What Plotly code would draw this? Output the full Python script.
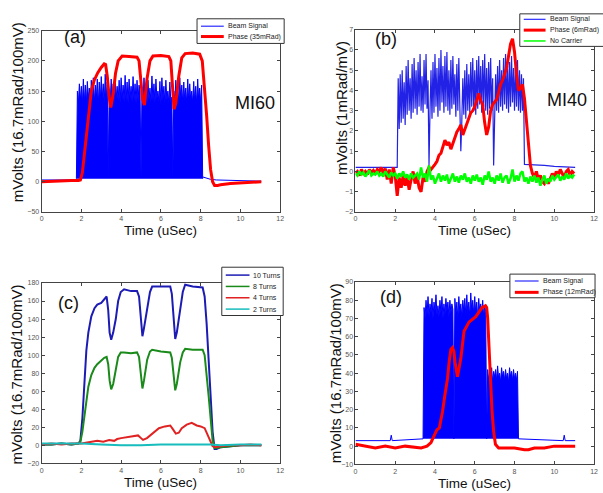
import plotly.graph_objects as go

W, H = 603, 493
FONT = "Liberation Sans, Arial, sans-serif"

# ---------------- Panel (a) MI60 ----------------
a_beam_t0, a_beam_dt = 1.75, 0.05
a_beam_env = [5, 150, 130, 162, 135, 158, 128, 170, 132, 160,
              130, 166, 138, 155, 130, 168, 134, 172, 130, 160,
              136, 170, 128, 165, 133, 174, 138, 162, 130, 178,
              135, 165,
              10,
              150, 132, 170, 135, 162, 130, 175, 138, 158, 133,
              168, 130, 172, 136, 160, 131, 176, 134, 165, 130,
              170, 138, 158, 132, 174, 135, 162, 130, 168, 134,
              160, 150,
              8,
              155, 130, 172, 134, 160, 128, 168, 136, 155, 131,
              175, 133, 162, 130, 170, 137, 150, 132, 166, 128,
              172, 135, 158, 130, 168, 134, 150, 130, 165, 132,
              140,
              8,
              150, 130, 168, 133, 158, 128, 172, 136, 160, 130,
              165, 134, 155, 129, 170, 132, 162, 135, 150, 130,
              166, 133, 158, 128, 170, 135, 155, 130, 160,
              5]
a_beam_base_x = [0, 1.75, None, 8.10, 8.3, 8.5, 8.8, 9.5, 11.05]
a_beam_base_y = [3, 3, None, 8, 6, 4, 3, 2, 1]
a_phase_x = [0, 0.5, 1.0, 1.5, 1.85, 1.95, 2.05, 2.15, 2.25, 2.35,
             2.5, 2.65, 2.82, 3.0, 3.15, 3.22, 3.3, 3.4, 3.48, 3.6,
             3.72, 3.85, 4.05, 4.4, 4.8, 4.9, 5.0, 5.08, 5.17, 5.3,
             5.45, 5.6, 6.0, 6.4, 6.5, 6.58, 6.66, 6.75, 6.9, 7.05,
             7.22, 7.6, 7.95, 8.08, 8.2, 8.3, 8.4, 8.5, 8.6, 8.7,
             8.85, 9.0, 9.5, 10.0, 10.5, 11.05]
a_phase_y = [0, 1, 1, 2, 2, 3, 15, 45, 80, 115,
             150, 168, 180, 189, 195, 194, 175, 140, 123, 145,
             180, 200, 208, 207, 206, 200, 160, 136, 127, 170,
             200, 208, 209, 207, 200, 160, 120, 130, 175, 205,
             212, 213, 211, 200, 158, 110, 60, 20, 0, -6,
             -6, -5, -3, -2, -1, 0]

# ---------------- Panel (b) MI40 ----------------
b_beam_t0, b_beam_dt = 2.10, 0.05
b_beam_vals = [0.2,
               4.6, 2.1, 4.8, 2.4, 5.0, 2.6, 4.4, 2.3, 5.2, 2.8,
               5.5, 3.0, 4.6, 2.6, 5.3, 2.9, 5.6, 3.1, 5.0, 2.8,
               5.4, 3.2, 5.8, 3.0, 4.7, 2.9, 5.5, 3.3, 5.8, 3.1,
               4.5,
               0.3,
               3.0, 5.0, 2.6, 5.4, 2.9, 5.8, 3.2, 5.1, 2.7, 5.6,
               3.0, 6.0, 3.4, 5.2, 2.9, 5.7, 3.2, 5.9, 3.0, 5.0,
               2.8, 5.5, 3.1, 5.7, 3.3, 4.8, 2.7, 5.3, 3.0, 5.6,
               3.2,
               1.0,
               2.5, 4.6, 2.8, 5.0, 2.6, 5.3, 3.0, 4.8, 2.9, 5.4,
               3.2, 5.6, 3.0, 5.0, 2.8, 5.5, 3.1, 5.7, 3.3, 5.2,
               2.9, 5.5, 3.2, 5.8, 3.0, 5.1, 2.8, 5.4, 3.1, 5.6,
               3.0, 4.6,
               0.3,
               2.8, 4.8, 3.0, 5.2, 2.9, 5.5, 3.2, 5.0, 3.0, 5.6,
               3.3, 5.8, 3.1, 5.2, 2.9, 5.4, 3.2, 5.7, 3.4, 5.1,
               3.0, 5.3, 3.2, 5.5, 3.0, 5.0, 2.9, 4.8, 3.0, 4.6,
               0.35]
b_beam_pre_x, b_beam_pre_y = [0, 2.05], [0.2, 0.2]
b_beam_post_x, b_beam_post_y = [8.55, 9.0, 9.5, 10.0, 11.05], [0.35, 0.33, 0.3, 0.25, 0.2]

b_noise_t0, b_noise_dt = 0.0, 0.1
b_phase_vals = [-0.1, 0.0, -0.2, 0.1, -0.1, 0.0, -0.15, 0.1, -0.05, 0.05,
                -0.1, 0.1, 0.0, 0.2, -0.1, 0.15, -0.4, 0.1, -0.6, 0.2,
                -0.2, -1.2, -0.3, -0.8, -0.2, -0.7, -0.3, -0.9, -0.4, 0.0,
                -0.6, -0.2, -0.8, -1.0, -0.3, -0.5, 0.0, 0.2, 0.1, 0.2,
                0.35, 0.5, 0.8, 0.9, 1.2, 1.55, 1.3, 1.45, 1.1, 1.4,
                1.7, 1.95, 2.1, 2.3, 1.8, 2.1, 2.4, 2.6, 2.9, 3.0,
                3.2, 3.5, 3.85, 3.5, 3.3, 2.4, 1.8, 2.2, 3.0, 3.3,
                3.4, 3.55, 3.9, 4.3, 4.5, 4.75, 5.1, 5.7, 6.3, 6.55,
                5.9, 4.8, 4.0, 4.1, 4.3, 3.6, 2.5, 1.4, 0.3, -0.1,
                -0.3, 0.0, -0.4, -0.2, -0.5, -0.6, -0.4, -0.6, -0.3, -0.1,
                -0.3, 0.0, -0.2, 0.1, -0.1, -0.3, 0.0, 0.1, -0.2, 0.0,
                -0.1]
b_nocarrier_vals = [-0.1, -0.2, 0.0, -0.15, -0.05, -0.25, -0.1, 0.05, -0.2, -0.1, -0.15,
                    0.0, -0.2, -0.1, -0.25, 0.0, -0.15, -0.3, -0.05, -0.2, -0.1,
                    -0.35, -0.1, -0.25, 0.0, -0.3, -0.15, -0.4, -0.1, -0.3, -0.2,
                    -0.1, -0.4, 0.2, -0.3, -0.1, -0.5, 0.3, -0.4, -0.2, -0.6,
                    -0.3, -0.1, -0.5, -0.2, -0.45, -0.15, -0.6, -0.3, -0.1, -0.5,
                    -0.25, -0.55, -0.2, -0.4, -0.1, -0.5, -0.3, -0.6, -0.2, -0.45,
                    -0.15, -0.5, -0.3, -0.65, -0.2, -0.4, 0.0, -0.5, -0.3, -0.6,
                    -0.2, -0.45, -0.1, -0.55, -0.3, -0.2, -0.6, -0.35, 0.1, -0.5,
                    -0.2, -0.45, -0.1, 0.0, -0.5, -0.3, -0.6, -0.25, -0.5, -0.2,
                    -0.55, -0.3, -0.7, -0.4, -0.2, -0.6, -0.35, -0.5, -0.2, -0.4,
                    -0.3, -0.15, -0.45, -0.25, -0.4, -0.1, -0.35, -0.2, -0.3, -0.15]

# ---------------- Panel (c) turns ----------------
c_x = [0, 0.5, 1, 1.5, 1.85, 1.95, 2.05, 2.15, 2.25, 2.35,
       2.5, 2.66, 2.8, 3.0, 3.15, 3.27, 3.35, 3.42, 3.5, 3.6,
       3.73, 3.85, 3.98, 4.15, 4.5, 4.8, 4.9, 5.0, 5.07, 5.15,
       5.31, 5.45, 5.56, 6.0, 6.47, 6.55, 6.63, 6.72, 6.8, 6.97,
       7.1, 7.22, 7.6, 8.1, 8.2, 8.3, 8.4, 8.5, 8.6, 8.7,
       8.8, 9.0, 9.5, 10, 10.5, 11.05]
c_turns10 = [1, 1, 2, 1, 2, 5, 30, 70, 105, 125,
             143, 152, 156, 158, 162, 165, 150, 125, 117, 125,
             140, 160, 170, 173, 171, 171, 165, 140, 121, 130,
             154, 170, 176, 176, 176, 168, 140, 118, 125, 152,
             170, 178, 176, 175, 165, 135, 95, 55, 15, -4,
             -4, -2, -1, 0, 0, 0]
c_turns8 = [1, 1, 2, 1, 2, 4, 15, 30, 50, 65,
            78, 86, 90, 94, 97, 98, 90, 72, 62, 68,
            85, 98, 103, 103, 102, 103, 98, 78, 63, 72,
            95, 104, 106, 104, 103, 97, 78, 61, 68, 92,
            103, 107, 106, 106, 100, 80, 55, 30, 5, -3,
            -3, -2, -1, 0, 0, 0]
c4_x = [0, 0.5, 1, 1.5, 2, 2.3, 2.5, 2.8, 3.1, 3.4,
        3.65, 3.8, 4.0, 4.3, 4.6, 4.85, 5.0, 5.1, 5.3, 5.5,
        5.7, 5.9, 6.2, 6.47, 6.6, 6.75, 6.9, 7.05, 7.3, 7.55,
        7.8, 8.0, 8.2, 8.3, 8.45, 8.6, 8.75, 9.0, 9.5, 10,
        10.5, 11.05]
c_turns4 = [1, 2, 1, 2, 2, 3, 4, 5, 4, 6,
            5, 7, 8, 9, 10, 11, 8, 6, 8, 12,
            16, 19, 21, 22, 18, 13, 14, 19, 23, 25,
            22, 21, 19, 14, 5, -1, -2, -1, 0, 0,
            1, 0]
c2_x = [0, 1, 2, 3, 4, 5, 6, 7, 8, 8.5, 9, 10, 11.05]
c_turns2 = [2, 2, 2, 1, 0, 0, 1, 1, 1, 1, 0, 1, 1]

# ---------------- Panel (d) ----------------
d_beam_t0, d_beam_dt = 3.40, 0.05
d_beam_env = [4,
              76, 70, 80, 72, 82, 71, 78, 73, 81, 70,
              79, 74, 83, 72, 77, 71, 80, 73, 82, 70,
              78, 72, 81, 74, 79, 71, 80, 73, 78, 75,
              4,
              81, 72, 79, 70, 82, 73, 78, 71, 80, 74,
              81, 72, 83, 73, 79, 71, 84, 74, 80, 72,
              82, 73, 79, 70, 81, 74, 78, 72, 80, 71,
              77, 74,
              4,
              42, 36, 40, 37, 43, 35, 41, 38, 42, 36,
              44, 37, 40, 35, 43, 38, 41, 36, 42, 37,
              40, 35, 43, 38, 41, 36, 42, 37, 40, 36,
              41,
              4]
d_beam_base_x = [0, 1.75, 1.8, 1.85, 3.4, None, 8.2, 9, 10, 10.45, 10.5, 10.55, 11.05]
d_beam_base_y = [3, 3, 6, 3, 4, None, 4, 3.5, 3, 3, 6, 3, 3]
d_phase_x = [0, 0.5, 1, 1.5, 2, 2.5, 3, 3.3, 3.6, 3.8,
             3.97, 4.1, 4.22, 4.38, 4.5, 4.63, 4.72, 4.8, 4.88, 4.95,
             5.01, 5.08, 5.13, 5.2, 5.3, 5.46, 5.6, 5.71, 6.05, 6.37,
             6.54, 6.6, 6.65, 6.71, 6.8, 6.87, 6.95, 7.04, 7.2, 7.5,
             8, 8.5, 8.7, 9, 9.5, 10, 10.5, 11.05]
d_phase_y = [1, 0, -1, 0, -1, 0, -0.5, -1, 0, 2,
             6, 9, 10, 19, 28, 37, 47, 53, 54, 52,
             46, 40, 38, 42, 48, 63, 66, 68, 71, 76,
             77, 76, 70, 55, 35, 19, 8, 1, -1, -1,
             -1, -2, -2, -1, -1, 0, 0, 0]

x_ticks = [0, 2, 4, 6, 8, 10, 12]


def grid(t0, dt, n):
    return [round(t0 + i * dt, 4) for i in range(n)]


BLUE = "#0000ff"
RED = "#ff0000"

fig = go.Figure()

# (a)
fig.add_trace(go.Scatter(x=a_beam_base_x, y=a_beam_base_y, mode="lines", name="Beam Signal",
                         line=dict(color=BLUE, width=1), xaxis="x", yaxis="y", showlegend=False))
fig.add_trace(go.Scatter(x=grid(a_beam_t0, a_beam_dt, len(a_beam_env)), y=a_beam_env, mode="lines",
                         fill="toself", fillcolor=BLUE, name="Beam Signal",
                         line=dict(color=BLUE, width=1), xaxis="x", yaxis="y", showlegend=False))
fig.add_trace(go.Scatter(x=a_phase_x, y=a_phase_y, mode="lines", name="Phase (35mRad)",
                         line=dict(color=RED, width=3), xaxis="x", yaxis="y", showlegend=False))

# (b)
b_bx = b_beam_pre_x + grid(b_beam_t0, b_beam_dt, len(b_beam_vals)) + b_beam_post_x
b_by = b_beam_pre_y + b_beam_vals + b_beam_post_y
fig.add_trace(go.Scatter(x=b_bx, y=b_by, mode="lines", name="Beam Signal",
                         line=dict(color="#2222e6", width=1.2), xaxis="x2", yaxis="y2", showlegend=False))
fig.add_trace(go.Scatter(x=grid(b_noise_t0, b_noise_dt, len(b_phase_vals)), y=b_phase_vals, mode="lines",
                         name="Phase (6mRad)", line=dict(color=RED, width=3),
                         xaxis="x2", yaxis="y2", showlegend=False))
fig.add_trace(go.Scatter(x=grid(b_noise_t0, b_noise_dt, len(b_nocarrier_vals)), y=b_nocarrier_vals,
                         mode="lines", name="No Carrier", line=dict(color="#00ff00", width=2.5),
                         xaxis="x2", yaxis="y2", showlegend=False))

# (c)
c_series = [(c_x, c_turns10, "10 Turns", "#1c1cb4"),
            (c_x, c_turns8, "8 Turns", "#1a8a1a"),
            (c4_x, c_turns4, "4 Turns", "#e02222"),
            (c2_x, c_turns2, "2 Turns", "#17bcbc")]
for xs, ys, nm, col in c_series:
    fig.add_trace(go.Scatter(x=xs, y=ys, mode="lines", name=nm, line=dict(color=col, width=2),
                             xaxis="x3", yaxis="y3", showlegend=False))

# (d)
fig.add_trace(go.Scatter(x=d_beam_base_x, y=d_beam_base_y, mode="lines", name="Beam Signal",
                         line=dict(color=BLUE, width=1), xaxis="x4", yaxis="y4", showlegend=False))
fig.add_trace(go.Scatter(x=grid(d_beam_t0, d_beam_dt, len(d_beam_env)), y=d_beam_env, mode="lines",
                         fill="toself", fillcolor=BLUE, name="Beam Signal",
                         line=dict(color=BLUE, width=1), xaxis="x4", yaxis="y4", showlegend=False))
fig.add_trace(go.Scatter(x=d_phase_x, y=d_phase_y, mode="lines", name="Phase (12mRad)",
                         line=dict(color=RED, width=3), xaxis="x4", yaxis="y4", showlegend=False))


def px(x):
    return x / W


def py(y):
    return 1 - y / H


def xaxis(l, r, anchor):
    return dict(domain=[px(l), px(r)], range=[0, 12], tickvals=x_ticks, anchor=anchor,
                ticks="inside", ticklen=3, tickcolor="#444", mirror="ticks", showline=True,
                linecolor="#444", linewidth=1, showgrid=False, zeroline=False,
                tickfont=dict(size=7, color="#555", family=FONT))


def yaxis(t, b, rng, dtick, anchor):
    return dict(domain=[py(b), py(t)], range=rng, dtick=dtick, tick0=rng[0], anchor=anchor,
                ticks="inside", ticklen=3, tickcolor="#444", mirror="ticks", showline=True,
                linecolor="#444", linewidth=1, showgrid=False, zeroline=False,
                tickfont=dict(size=7, color="#555", family=FONT))


fig.update_layout(
    width=W, height=H, margin=dict(l=0, r=0, t=0, b=0),
    paper_bgcolor="white", plot_bgcolor="white", showlegend=False,
    font=dict(family=FONT),
    xaxis=xaxis(40, 281, "y"), yaxis=yaxis(27, 211, [-50, 250], 50, "x"),
    xaxis2=xaxis(357, 598, "y2"), yaxis2=yaxis(26, 211, [-2, 7], 1, "x2"),
    xaxis3=xaxis(40, 281, "y3"), yaxis3=yaxis(283, 466, [-20, 180], 20, "x3"),
    xaxis4=xaxis(357, 598, "y4"), yaxis4=yaxis(282, 467, [-10, 90], 10, "x4"),
)


# axis titles and panel labels (text annotations)
def txt(x, y, s, size, angle=0):
    fig.add_annotation(xref="paper", yref="paper", x=px(x), y=py(y), text=s, showarrow=False,
                       xanchor="center", yanchor="middle", textangle=angle,
                       font=dict(size=size, color="#111", family=FONT))


for xc, yc in [(160, 230), (477, 230), (160, 485.5), (477, 486)]:
    txt(xc, yc, "Time (uSec)", 13.5)
txt(16, 110, "mVolts (16.7mRad/100mV)", 15, -90)
txt(343, 106, "mVolts (1mRad/mV)", 15, -90)
txt(15, 376, "mVolts (16.7mRad/100mV)", 15, -90)
txt(337, 375, "mVolts (16.7mRad/100mV)", 15, -90)
txt(74, 33, "(a)", 18)
txt(256, 100, "MI60", 18)
txt(388, 36, "(b)", 18)
txt(571, 97, "MI40", 18)
txt(67, 303, "(c)", 18)
txt(393, 297, "(d)", 18)


# legends drawn as boxes with sample lines
def add_legend(box, rows, line_x, text_x):
    x0, y0, x1, y1 = box
    fig.add_shape(type="rect", xref="paper", yref="paper", x0=px(x0), x1=px(x1), y0=py(y1), y1=py(y0),
                  line=dict(color="#333", width=1), fillcolor="white", layer="above")
    for yy, label, color, width in rows:
        fig.add_shape(type="line", xref="paper", yref="paper", x0=px(line_x[0]), x1=px(line_x[1]),
                      y0=py(yy), y1=py(yy), line=dict(color=color, width=width), layer="above")
        fig.add_annotation(xref="paper", yref="paper", x=px(text_x), y=py(yy), text=label,
                           showarrow=False, xanchor="left", yanchor="middle",
                           font=dict(size=7, color="#222", family=FONT))


add_legend((197, 15, 285, 40), [(22.5, "Beam Signal", BLUE, 1), (33, "Phase (35mRad)", RED, 3)],
           (201, 224), 226)
add_legend((523, 10, 610, 43), [(15.5, "Beam Signal", BLUE, 1), (26.5, "Phase (6mRad)", RED, 3),
                                (37.5, "No Carrier", "#00ff00", 1.5)], (527, 549), 551)
add_legend((222, 267, 284, 316), [(275, "10 Turns", "#1c1cb4", 1.5), (286.5, "8 Turns", "#1a8a1a", 1.5),
                                  (298, "4 Turns", "#e02222", 1.5), (309.5, "2 Turns", "#17bcbc", 1.5)],
           (226, 250), 251)
add_legend((513, 274, 599, 298), [(281, "Beam Signal", BLUE, 1), (292.5, "Phase (12mRad)", RED, 3)],
           (518, 542), 544)

fig.write_html("out.html", config={"displayModeBar": False},
               post_script="document.body.style.margin='0px';document.body.style.overflow='hidden';")
